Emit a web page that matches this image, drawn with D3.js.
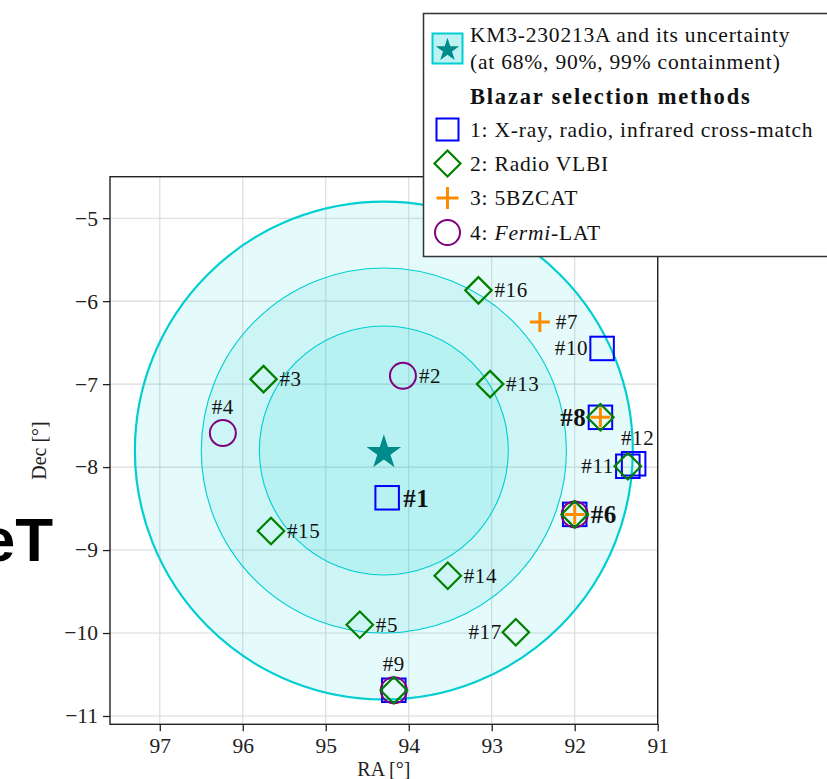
<!DOCTYPE html>
<html>
<head>
<meta charset="utf-8">
<script src="https://cdn.jsdelivr.net/npm/d3@7"></script>
<style>
  html, body { margin: 0; padding: 0; background: #fff; overflow: hidden; }
  svg { display: block; font-family: "Liberation Serif", "DejaVu Serif", serif; }
</style>
</head>
<body>
<div id="viz"></div>
<script>
// KM3-230213A event and its containment regions
const eventRA = 94.3;
const eventDec = -7.8;
const containment = ['68%', '90%', '99%'];
const radiiDeg = [1.5, 2.2, 3.0];

// candidate blazars (#1 .. #17)
const sourceNames = ['#1','#2','#3','#4','#5','#6','#7','#8','#9','#10','#11','#12','#13','#14','#15','#16','#17'];
const sourceRA  = [94.26, 94.07, 95.75, 96.24, 94.59, 92.00, 92.42, 91.69, 94.18, 91.67, 91.36, 91.29, 93.02, 93.53, 95.66, 93.16, 92.71];
const sourceDec = [-8.37, -6.90, -6.94, -7.59, -9.90, -8.57, -6.25, -7.40, -10.69, -6.57, -7.99, -7.96, -7.00, -9.31, -8.77, -5.87, -9.99];
const labelSide = ['r','r','r','t','r','r','r','l','t','l','l','t','r','r','r','r','l'];
const boldNames = ['#1', '#6', '#8'];

// which sources each selection method picked
const method1 = ['#1','#6','#8','#9','#10','#11','#12'];
const method2 = ['#3','#5','#6','#8','#9','#11','#13','#14','#15','#16','#17'];
const method3 = ['#6','#7','#8'];
const method4 = ['#2','#4','#6','#9'];

const raTicks = [97, 96, 95, 94, 93, 92, 91];
const decTicks = [-5, -6, -7, -8, -9, -10, -11];

const W = 827, H = 779;
const cyan = '#00ced1', teal = '#008b8b';
const colors = { sq: '#0000ff', dia: '#008000', plus: '#ff8c00', circ: '#800080' };

const svg = d3.select('#viz').append('svg').attr('width', W).attr('height', H);

const plotL = 110, plotR = 657.7, plotT = 176.7, plotB = 724.3;
const x = d3.scaleLinear().domain([97.6, 91]).range([plotL, plotR]);
const y = d3.scaleLinear().domain([-4.5, -11.1]).range([plotT, plotB]);
const pxPerDeg = Math.abs(x(1) - x(0));

// cut-off title from neighbouring panel
svg.append('text')
  .attr('x', 53).attr('y', 561)
  .attr('text-anchor', 'end')
  .style('font-family', '"Liberation Sans", Arial, sans-serif')
  .style('font-weight', 'bold')
  .style('font-size', '62px')
  .text('KM3NeT');

// grid
const grid = svg.append('g').attr('stroke', '#dadada').attr('stroke-width', 1.1);
grid.selectAll('line.gx').data(raTicks).join('line')
  .attr('x1', d => x(d)).attr('x2', d => x(d))
  .attr('y1', plotT).attr('y2', plotB);
grid.selectAll('line.gy').data(decTicks).join('line')
  .attr('y1', d => y(d)).attr('y2', d => y(d))
  .attr('x1', plotL).attr('x2', plotR);

// containment circles
svg.append('g').selectAll('circle').data(radiiDeg.slice().reverse()).join('circle')
  .attr('cx', x(eventRA)).attr('cy', y(eventDec))
  .attr('r', d => d * pxPerDeg)
  .attr('fill', cyan).attr('fill-opacity', 0.1)
  .attr('stroke', cyan)
  .attr('stroke-width', (d, i) => i === 0 ? 2.2 : 1.1);

// event star
svg.append('path')
  .attr('transform', `translate(${x(eventRA)},${y(eventDec) + 2})`)
  .attr('d', d3.symbol(d3.symbolStar, 370)())
  .attr('fill', teal);

const idx = name => sourceNames.indexOf(name);
const px = name => x(sourceRA[idx(name)]);
const py = name => y(sourceDec[idx(name)]);

function drawSquare(g, cx, cy, s) {
  g.append('rect').attr('x', cx - s / 2).attr('y', cy - s / 2)
    .attr('width', s).attr('height', s)
    .attr('fill', 'none').attr('stroke', colors.sq).attr('stroke-width', 2);
}
function drawDiamond(g, cx, cy, s) {
  const h = s / 2;
  g.append('path').attr('d', `M${cx},${cy - h}L${cx + h},${cy}L${cx},${cy + h}L${cx - h},${cy}Z`)
    .attr('fill', 'none').attr('stroke', colors.dia).attr('stroke-width', 2.2);
}
function drawPlus(g, cx, cy, s) {
  const h = s / 2;
  g.append('path').attr('d', `M${cx - h},${cy}H${cx + h}M${cx},${cy - h}V${cy + h}`)
    .attr('fill', 'none').attr('stroke', colors.plus).attr('stroke-width', 3);
}
function drawCircle(g, cx, cy, s) {
  g.append('circle').attr('cx', cx).attr('cy', cy).attr('r', s / 2)
    .attr('fill', 'none').attr('stroke', colors.circ).attr('stroke-width', 2);
}

const marks = svg.append('g');
method1.forEach(n => drawSquare(marks, px(n), py(n), 23.5));
method4.forEach(n => drawCircle(marks, px(n), py(n), 26));
method2.forEach(n => drawDiamond(marks, px(n), py(n), 26.5));
method3.forEach(n => drawPlus(marks, px(n), py(n), 20));

// source labels
svg.append('g').selectAll('text').data(sourceNames).join('text')
  .each(function (n, i) {
    const bold = boldNames.includes(n);
    const side = labelSide[i];
    const cx = x(sourceRA[i]), cy = y(sourceDec[i]);
    const t = d3.select(this)
      .style('font-size', bold ? '25px' : '21px')
      .style('font-weight', bold ? 'bold' : 'normal')
      .style('letter-spacing', '0.6px')
      .attr('fill', '#111')
      .text(n);
    if (side === 'r') t.attr('x', cx + 16).attr('y', cy + (bold ? 9 : 7));
    else if (side === 'l') t.attr('x', cx - 14).attr('y', cy + (bold ? 9 : 7)).attr('text-anchor', 'end');
    else t.attr('x', cx + (n === '#12' ? 4 : 0)).attr('y', cy - 19).attr('text-anchor', 'middle');
  });

// spines
svg.append('rect')
  .attr('x', plotL).attr('y', plotT)
  .attr('width', plotR - plotL).attr('height', plotB - plotT)
  .attr('fill', 'none').attr('stroke', '#222').attr('stroke-width', 1.4);

// axes
const xAxis = svg.append('g').attr('transform', `translate(0,${plotB})`)
  .call(d3.axisBottom(x).tickValues(raTicks).tickFormat(d3.format('d')).tickSize(7).tickPadding(6));
const yAxis = svg.append('g').attr('transform', `translate(${plotL},0)`)
  .call(d3.axisLeft(y).tickValues(decTicks).tickFormat(d3.format('d')).tickSize(7).tickPadding(5));
[xAxis, yAxis].forEach(a => {
  a.select('.domain').remove();
  a.selectAll('.tick line').attr('stroke', '#222').attr('stroke-width', 1.3);
  a.selectAll('.tick text')
    .style('font-family', '"Liberation Serif", serif')
    .style('font-size', '21.5px').attr('fill', '#222');
});

svg.append('text')
  .attr('x', (plotL + plotR) / 2).attr('y', 776)
  .attr('text-anchor', 'middle').style('font-size', '20px').attr('fill', '#222')
  .text('RA [°]');
svg.append('text')
  .attr('transform', `translate(46,${(plotT + plotB) / 2}) rotate(-90)`)
  .attr('text-anchor', 'middle').style('font-size', '20px').attr('fill', '#222')
  .text('Dec [°]');

// legend
const lg = svg.append('g');
lg.append('rect').attr('x', 423.5).attr('y', 13.5).attr('width', 420).attr('height', 243)
  .attr('fill', '#fff').attr('stroke', '#333').attr('stroke-width', 1.5);

lg.append('rect').attr('x', 432.5).attr('y', 33.5).attr('width', 30).attr('height', 30)
  .attr('fill', '#bdf1f2').attr('stroke', cyan).attr('stroke-width', 2);
lg.append('path').attr('transform', 'translate(447.5,50)')
  .attr('d', d3.symbol(d3.symbolStar, 170)()).attr('fill', teal);

const lgText = (yy, txt, bold) => lg.append('text').attr('x', 470).attr('y', yy)
  .style('font-size', bold ? '22.5px' : '21.5px').style('font-weight', bold ? 'bold' : 'normal')
  .style('letter-spacing', bold ? '1.8px' : '0.8px')
  .attr('fill', '#111').text(txt);
lgText(42, 'KM3-230213A and its uncertainty');
lgText(69, '(at 68%, 90%, 99% containment)');
lgText(104, 'Blazar selection methods', true);
lgText(137, '1: X-ray, radio, infrared cross-match');
lgText(171, '2: Radio VLBI');
lgText(205, '3: 5BZCAT');
const t4 = lgText(240, '4: ');
t4.append('tspan').style('font-style', 'italic').text('Fermi');
t4.append('tspan').text('-LAT');

drawSquare(lg, 447.5, 129.5, 22);
drawDiamond(lg, 447.5, 163.5, 26);
drawPlus(lg, 447.5, 198, 22);
drawCircle(lg, 447.5, 232.5, 25);
</script>
</body>
</html>
